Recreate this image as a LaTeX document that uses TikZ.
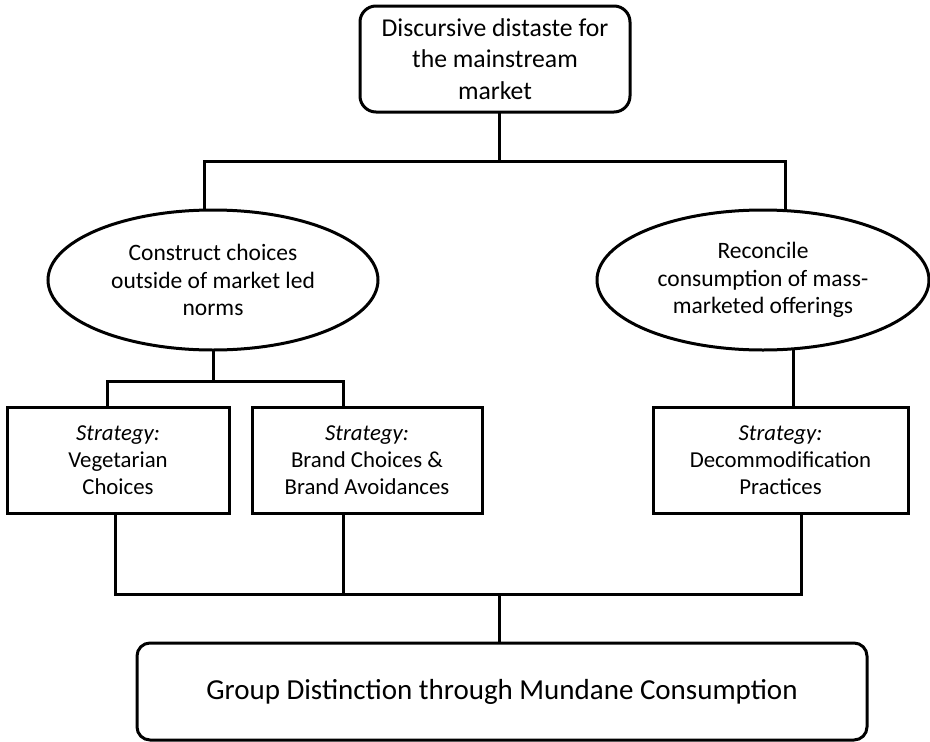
\documentclass[tikz,border=0pt]{standalone}
\usepackage{fontspec}
\setmainfont{Carlito}
\usetikzlibrary{positioning, shapes.geometric}

\begin{document}
\begin{tikzpicture}[
  x=1pt, y=-1pt,
  rbox/.style={
    draw, rounded corners=16pt, line width=3pt,
    align=center, inner sep=0pt
  },
  oval/.style={
    draw, ellipse, line width=3pt, inner sep=0pt,
    minimum width=330pt, minimum height=140pt,
    align=center, font=\fontsize{23.5}{27.5}\selectfont
  },
  strat/.style={
    draw, line width=3pt, inner sep=0pt,
    minimum height=106pt, align=center,
    font=\fontsize{22.8}{26.7}\selectfont
  },
  link/.style={line width=3pt, line cap=rect},
]
  \useasboundingbox (0,0) rectangle (930,742);

  % Top and bottom boxes
  \node[rbox, minimum width=270pt, minimum height=106pt,
    font=\fontsize{25.7}{31.5}\selectfont] (distaste) at (495,59)
    {Discursive distaste for\\the mainstream\\market};
  \node[rbox, rounded corners=13pt, minimum width=730pt, minimum height=97pt,
    font=\fontsize{29}{32}\selectfont] (distinction) at (502,691.5)
    {Group Distinction through Mundane Consumption};

  % Ellipses
  \node[oval] (construct) at (213,280)
    {Construct choices\\outside of market led\\norms};
  \node[oval, minimum width=332pt] (reconcile) at (763,280)
    {Reconcile\\consumption of mass-\\marketed offerings};

  % Strategies
  \node[strat, minimum width=222pt] (veg) at (118,460)
    {\textit{Strategy:}\\Vegetarian\\Choices};
  \node[strat, minimum width=230pt] (brand) at (367,460)
    {\textit{Strategy:}\\Brand Choices \&\\Brand Avoidances};
  \node[strat, minimum width=255pt] (decom) at (780.5,460)
    {\textit{Strategy:}\\Decommodification\\Practices};

  % Junctions
  \coordinate (topbus) at (499,161);
  \coordinate (leftbus) at (213,381);
  \coordinate (lowbus) at (499,594);

  % Connectors
  \draw[link] ([xshift=4pt]distaste.south) -- (topbus);
  \draw[link] (topbus) -| ([xshift=-9pt]construct.north);
  \draw[link] (topbus) -| ([xshift=22pt]reconcile.north);

  \draw[link] (construct) -- (leftbus);
  \draw[link] (leftbus) -| ([xshift=-11pt]veg.north);
  \draw[link] (leftbus) -| ([xshift=-24pt]brand.north);
  \draw[link] ([xshift=30pt]reconcile.south) -- ([xshift=12.5pt]decom.north);

  \draw[link] ([xshift=-3pt]veg.south) |- (lowbus);
  \draw[link] ([xshift=-24pt]brand.south) |- (lowbus);
  \draw[link] ([xshift=20.5pt]decom.south) |- (lowbus);
  \draw[link] (lowbus) -- ([xshift=-3pt]distinction.north);

\end{tikzpicture}
\end{document}
